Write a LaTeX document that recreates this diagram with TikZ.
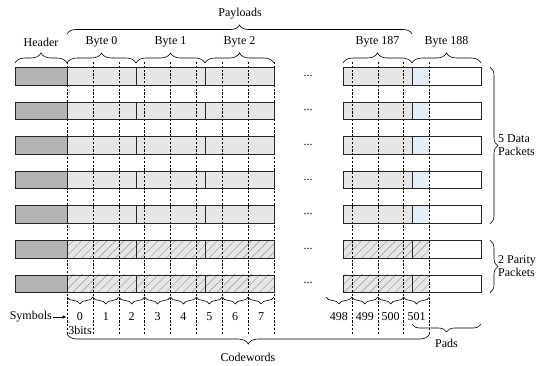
\documentclass[tikz,border=0pt]{standalone}
\usepackage{fontspec}
\setmainfont{Liberation Serif}
\usepackage{tikz}
\usetikzlibrary{decorations.pathreplacing,patterns.meta,arrows.meta}
\definecolor{headerGray}{RGB}{180,180,180}
\definecolor{payloadGray}{RGB}{230,230,230}
\definecolor{padBlue}{RGB}{230,236,248}

\begin{document}
\begin{tikzpicture}[x=1pt,y=-1pt,
        lbl/.style={font=\fontsize{12}{13}\selectfont, inner sep=1pt},
        cell/.style={draw=black!85, line width=0.8pt},
        symline/.style={dashed, dash pattern=on 2.2pt off 1.6pt, line width=0.5pt},
        brc/.style={decorate, decoration={brace, amplitude=#1}, line width=0.6pt},
        mbrc/.style={decorate, decoration={brace, mirror, amplitude=#1}, line width=0.6pt},
        hatch/.style={pattern={Lines[angle=45,distance=6pt,line width=0.4pt]}, pattern color=gray!85}
      ]
        \useasboundingbox (0,0) rectangle (547,365);
        % FILLS: data packets
        \foreach \r in {0,...,4}{
          \pgfmathsetmacro{\yt}{67.3+34.6*\r}
          \pgfmathsetmacro{\yb}{\yt+17.7}
          \fill[headerGray] (15,\yt) rectangle (67,\yb);
          \fill[payloadGray] (67,\yt) rectangle (274,\yb);
          \fill[payloadGray] (343,\yt) rectangle (412,\yb);
          \fill[padBlue] (412,\yt) rectangle (429,\yb);
          \node[lbl] (dots\r) at (308,\yt+8.5) {...};
        }
        % FILLS: parity packets
        \foreach \r in {5,6}{
          \pgfmathsetmacro{\yt}{67.3+34.6*\r}
          \pgfmathsetmacro{\yb}{\yt+17.7}
          \fill[headerGray] (15,\yt) rectangle (67,\yb);
          \fill[payloadGray, postaction={hatch}] (67,\yt) rectangle (274,\yb);
          \fill[payloadGray, postaction={hatch}] (343,\yt) rectangle (429,\yb);
          \node[lbl] (dots\r) at (308,\yt+8.5) {...};
        }
        % SYMBOL BOUNDARIES (3 bits each)
        \foreach \k in {0,...,8}
          \draw[symline] ({67+25.875*\k},62) -- ({67+25.875*\k},335);
        \foreach \x in {351.9,377.8,403.6,429.5}
          \draw[symline] (\x,62) -- (\x,335);
        % BORDERS
        \foreach \r in {0,...,6}{
          \pgfmathsetmacro{\yt}{67.3+34.6*\r}
          \pgfmathsetmacro{\yb}{\yt+17.7}
          \draw[cell] (15,\yt) rectangle (274,\yb);
          \draw[cell] (343,\yt) rectangle (481,\yb);
          \foreach \x in {67,136,205,412}
            \draw[cell] (\x,\yt) -- (\x,\yb);
        }
        % TOP BRACES
        \draw[brc=9pt] (67,34) -- (412,34);
        \node[lbl] (payloads) at (240,14) {Payloads};
        \draw[brc=10pt] (15,63) -- (67,63);
        \node[lbl] (header) at (41,42) {Header};
        \draw[brc=10pt] (67,63) -- (136,63);
        \node[lbl] (byte0) at (101.5,42) {Byte 0};
        \draw[brc=10pt] (136,63) -- (205,63);
        \node[lbl] (byte1) at (170.5,42) {Byte 1};
        \draw[brc=10pt] (205,63) -- (274,63);
        \node[lbl] (byte2) at (239.5,42) {Byte 2};
        \draw[brc=10pt] (343,63) -- (412,63);
        \node[lbl] (byte187) at (377.5,42) {Byte 187};
        \draw[brc=10pt] (412,63) -- (481,63);
        \node[lbl] (byte188) at (446.5,42) {Byte 188};
        % RIGHT BRACES
        \draw[brc=8pt] (490,67.3) -- (490,223.7);
        \node[lbl, anchor=west, align=left] (datalbl) at (497,145.5) {5 Data\\Packets};
        \draw[brc=8pt] (490,240.3) -- (490,292.6);
        \node[lbl, anchor=west, align=left] (paritylbl) at (497,266.5) {2 Parity\\Packets};
        % SYMBOLS
        \foreach \k in {0,...,7}{
          \draw[mbrc=7pt] ({67+25.875*\k},297) -- ({67+25.875*(\k+1)},297);
          \node[lbl] (sym\k) at ({67+25.875*(\k+0.5)},317) {\k};
        }
        \foreach \s [count=\i from 0] in {498,499,500,501}{
          \draw[mbrc=7pt] ({326+25.875*\i},297) -- ({326+25.875*(\i+1)},297);
          \node[lbl] (sym\s) at ({326+25.875*(\i+0.5)},317) {\s};
        }
        \node[lbl, anchor=east] (symlbl) at (53,317) {Symbols};
        \coordinate (symtip) at (66.5,317);
        \draw[-{Latex[length=4pt,width=3.5pt]}, line width=0.6pt] (symlbl.east) -- (symtip);
        \node[lbl] (bits) at (80,330) {3bits};
        % BOTTOM BRACES
        \draw[mbrc=8pt] (412,324) -- (481,324);
        \node[lbl] (pads) at (446.5,343) {Pads};
        \draw[mbrc=10pt] (67,334) -- (429.5,334);
        \node[lbl] (codewords) at (248,357) {Codewords};
      \end{tikzpicture}
\end{document}
